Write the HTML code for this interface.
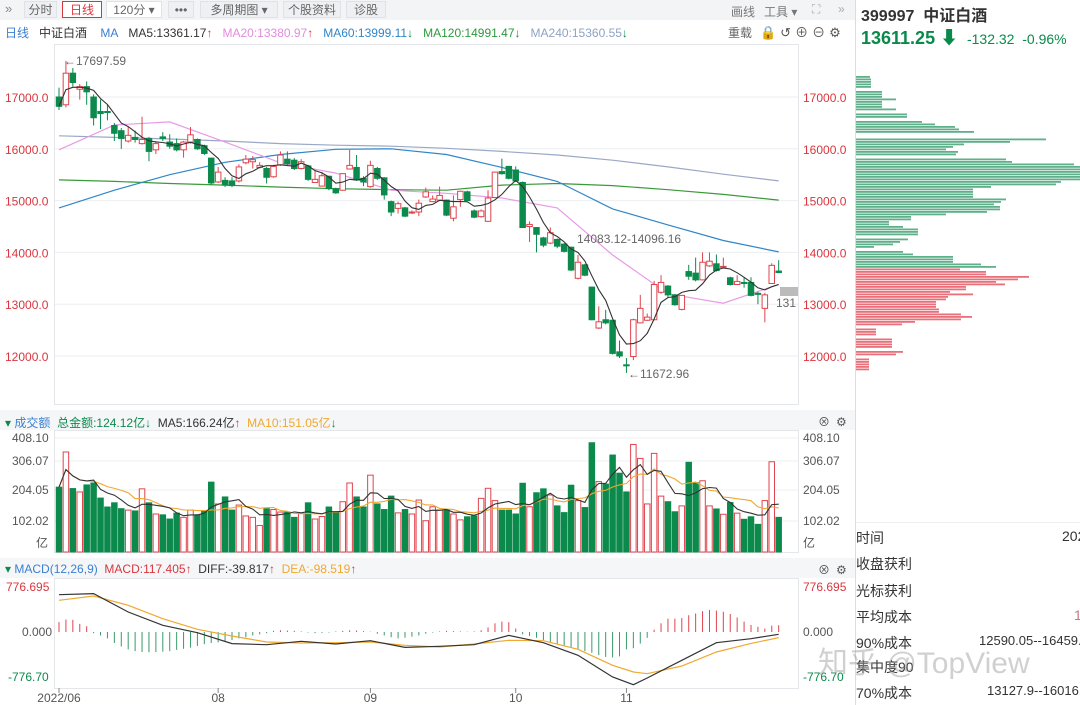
<!DOCTYPE html>
<html><head><meta charset="utf-8">
<style>
body{margin:0;width:1080px;height:705px;overflow:hidden;background:#fff;font-family:"Liberation Sans","Noto Sans CJK SC",sans-serif;position:relative}
.a{position:absolute;white-space:nowrap}
.btn{position:absolute;top:1px;height:17px;line-height:17px;font-size:12px;color:#666;background:#eef0f3;border:1px solid #dfe2e6;text-align:center;box-sizing:border-box}
.t12{font-size:12px}
.row{position:absolute;left:856px;width:224px;font-size:14px;color:#333;white-space:nowrap}
.row span{white-space:nowrap}
</style></head><body>
<div class="a" style="left:0;top:0;width:855px;height:20px;background:#f3f4f6"></div>
<div class="a" style="left:5px;top:1px;font-size:13px;color:#888">»</div>
<div class="btn" style="left:24px;width:33px">分时</div>
<div class="btn" style="left:62px;width:40px;border-color:#d9363e;background:#fff;color:#d9363e">日线</div>
<div class="btn" style="left:106px;width:56px;background:#fff">120分 ▾</div>
<div class="btn" style="left:168px;width:26px">•••</div>
<div class="btn" style="left:200px;width:78px">多周期图 ▾</div>
<div class="btn" style="left:283px;width:58px">个股资料</div>
<div class="btn" style="left:346px;width:40px">诊股</div>
<div class="a t12" style="left:731px;top:3px;color:#777">画线</div>
<div class="a t12" style="left:764px;top:3px;color:#777">工具 ▾</div>
<div class="a t12" style="left:812px;top:2px;color:#aaa">⛶</div>
<div class="a t12" style="left:838px;top:2px;color:#aaa">»</div>

<div class="a t12" style="left:5px;top:24px">
<span style="color:#3b7fd1">日线</span>&nbsp;&nbsp;&nbsp;<span style="color:#333">中证白酒</span>&nbsp;&nbsp;&nbsp;&nbsp;<span style="color:#3b7fd1">MA</span>&nbsp;&nbsp;&nbsp;<span style="color:#333">MA5:13361.17<span style="color:#d9363e">↑</span></span>&nbsp;&nbsp;&nbsp;<span style="color:#e38be0">MA20:13380.97<span style="color:#d9363e">↑</span></span>&nbsp;&nbsp;&nbsp;<span style="color:#2f86c9">MA60:13999.11<span style="color:#0a8a4a">↓</span></span>&nbsp;&nbsp;&nbsp;<span style="color:#2c9a3c">MA120:14991.47<span style="color:#0a8a4a">↓</span></span>&nbsp;&nbsp;&nbsp;<span style="color:#8fa2c3">MA240:15360.55<span style="color:#0a8a4a">↓</span></span></div>
<div class="a t12" style="left:728px;top:24px;color:#666">重载</div>
<div class="a" style="left:760px;top:22px;font-size:13px;color:#555;letter-spacing:4px">🔒↺⊕⊖⚙</div>

<div class="a" style="left:855px;top:0;width:1px;height:705px;background:#dcdcdc"></div>
<div class="a" style="left:861px;top:2px;font-size:16px;font-weight:bold;color:#333">399997&nbsp; 中证白酒</div>
<div class="a" style="left:861px;top:24px;font-size:18px;font-weight:bold;color:#0a8a4a">13611.25 ⬇ <span style="font-size:14px;font-weight:normal">&nbsp;-132.32&nbsp; -0.96%</span></div>

<svg class="a" style="left:0;top:0" width="1080" height="705" id="svg"></svg>

<div class="a" style="left:856px;top:522px;width:224px;height:1px;background:#eee"></div>
<div class="row" style="top:528px">时间<span style="position:absolute;left:206px">202</span></div>
<div class="row" style="top:554px">收盘获利</div>
<div class="row" style="top:581px">光标获利</div>
<div class="row" style="top:607px">平均成本<span style="position:absolute;left:218px;color:#c77">1</span></div>
<div class="row" style="top:633px">90%成本<span style="position:absolute;left:123px;font-size:13px">12590.05--16459.</span></div>
<div class="row" style="top:657px">集中度90</div>
<div class="row" style="top:683px">70%成本<span style="position:absolute;left:131px;font-size:13px">13127.9--16016.</span></div>
<div class="a" style="left:818px;top:638px;font-size:30px;color:rgba(150,150,150,0.45)">知乎 @TopView</div>

<script>
const opens=[17000,16850,17460,17150,17200,17000,16720,16720,16450,16350,16150,16220,16100,16200,15980,16230,16130,16100,15980,16130,16180,16060,15820,15360,15390,15380,15380,15730,15750,15640,15620,15460,15690,15800,15780,15620,15670,15350,15280,15470,15230,15200,15610,15640,15430,15270,15620,15440,14980,14850,14860,14760,14780,15070,14980,15010,15010,14660,15020,15170,14800,14690,14600,15060,15560,15660,15590,15350,14500,14480,14280,14180,14250,14160,14100,13500,13760,13330,12540,12700,12690,12080,11830,11990,12640,12690,12700,13230,13350,13180,12900,13630,13600,13470,13740,13780,13720,13510,13380,13420,13420,13210,12920,13400,13640];
const closes=[16820,17460,17280,17200,17100,16600,16680,16700,16300,16200,16260,16180,16180,15950,16100,16200,16050,15980,16130,16270,16000,15910,15340,15550,15300,15290,15650,15800,15790,15680,15450,15660,15880,15710,15620,15750,15410,15410,15480,15230,15150,15520,15680,15400,15360,15680,15430,15110,14780,14940,14700,14780,14950,15170,15030,15100,14720,14880,15180,15000,14680,14800,15050,15550,15520,15430,15380,14480,14540,14350,14140,14380,14120,14020,13660,13810,13560,12700,12660,12640,12050,12000,11810,12700,12920,12750,13380,13420,13180,12990,13170,13540,13470,13810,13830,13650,13730,13380,13440,13400,13170,13190,13180,13750,13611];
const highs=[17180,17697,17560,17250,17300,17050,16950,16850,16500,16400,16420,16350,16620,16230,16150,16320,16280,16200,16150,16420,16200,16080,15830,15650,15450,15450,15700,15880,15860,15740,15650,15690,15950,15950,15820,15800,15690,15590,15550,15480,15250,15530,15980,15880,15470,15770,15650,15450,15000,14980,14880,14810,15020,15250,15100,15270,15020,15100,15190,15190,14830,14830,15200,15560,15810,15670,15660,15370,14600,14490,14300,14480,14270,14180,14110,13950,13780,13340,12960,12890,12700,12300,11960,12720,13180,12820,13450,13560,13370,13200,13180,13760,13900,14000,14000,13960,13900,13530,13560,13520,13520,13240,13220,13790,13850];
const lows=[16750,16800,17200,16950,16850,16450,16380,16550,16150,16000,16120,16120,16080,15760,15900,16150,16000,15950,15830,16100,15980,15880,15300,15340,15260,15260,15350,15700,15620,15620,15330,15440,15670,15680,15590,15600,15380,15350,15270,15200,15130,15190,15600,15380,15280,15250,15400,15020,14700,14750,14680,14740,14700,15050,14970,14990,14700,14600,14880,14990,14660,14670,14590,15050,15500,15410,15360,14470,14200,14000,14100,14160,14080,14000,13640,13480,13540,12690,12520,12610,12030,11960,11673,11920,12630,12680,12690,13200,13120,12970,12880,13470,13440,13460,13720,13630,13700,13360,13370,13320,13150,13000,12650,13390,13600];
const volumes=[232,358,227,215,240,247,193,161,176,155,150,147,226,176,136,133,118,139,124,150,133,147,250,172,197,150,168,129,124,95,155,152,143,143,124,139,176,118,127,161,140,180,247,197,161,275,172,152,200,140,152,136,186,112,162,150,150,136,115,126,129,192,228,184,150,150,136,246,162,212,226,204,165,141,239,184,159,391,252,243,347,282,215,385,335,172,353,200,180,144,165,321,248,255,165,154,135,177,139,117,126,99,184,323,124];
const maIdx=[0,8,16,24,32,40,48,56,64,72,80,88,96,104];
const ma20=[15980,16460,16520,16130,15730,15530,15200,15140,15050,14860,13950,13200,13020,13380];
const ma60=[14860,15200,15500,15740,15890,15990,16000,15890,15640,15370,14840,14530,14230,14010];
const ma120=[15400,15370,15330,15300,15260,15230,15210,15200,15300,15330,15290,15210,15120,15010];
const ma240=[16250,16220,16190,16150,16100,16070,16050,16010,15950,15880,15780,15650,15510,15380];
const macdIdx=[0,5,10,15,20,25,30,35,40,45,50,55,60,65,70,75,80,83,85,90,95,100,104];
const diff=[644,662,345,115,-12,-201,-219,-161,-207,-150,-265,-247,-219,-58,-184,-403,-777,-909,-794,-489,-184,-115,-40];
const dea=[547,621,460,230,46,-69,-173,-190,-184,-173,-230,-259,-207,-144,-150,-299,-575,-690,-719,-587,-345,-196,-98];
const macdHist=[170,215,210,140,100,-20,-60,-110,-190,-250,-300,-330,-345,-350,-345,-340,-330,-310,-290,-270,-240,-210,-190,-180,-160,-140,-110,-90,-60,-40,-20,20,30,25,20,10,-10,-20,-15,-10,10,20,30,25,15,5,-30,-60,-90,-110,-100,-80,-60,-30,-10,10,20,15,10,5,10,30,80,150,180,170,60,-40,-70,-100,-140,-180,-210,-240,-270,-300,-330,-360,-400,-430,-440,-420,-300,-280,-200,-100,40,150,230,230,240,290,320,360,380,370,350,310,250,180,120,90,60,110,117];
const priceTicks=[17000,16000,15000,14000,13000,12000];
const volTickLabels=["408.10","306.07","204.05","102.02","亿"];
const volTickY=[438,461,490,521,543];
const monthLabels=["2022/06","08","09","10","11"];
const monthIdx=[0,23,45,66,82];
const chipLens=[14,15,15,15,15,0,26,26,26,40,26,26,26,40,0,51,51,0,66,79,99,103,118,0,0,190,154,108,97,90,102,100,0,150,156,218,224,224,224,224,224,224,205,200,135,117,117,117,117,150,145,138,144,144,131,90,55,55,33,33,47,62,62,62,0,52,44,37,18,0,47,57,97,97,97,125,140,104,130,130,173,162,140,149,110,110,94,117,92,90,80,80,80,83,83,105,116,105,59,46,0,20,20,20,0,36,36,36,36,0,47,40,0,13,13,13,13,13];
const chipGreenCount=77;

const svg=document.getElementById('svg');const NS='http://www.w3.org/2000/svg';
function mk(tag,attrs,name,parent){const e=document.createElementNS(NS,tag);for(const k in attrs)e.setAttribute(k,attrs[k]);


(parent||svg).appendChild(e);return e;}
const RED='#e0434d',GRN='#0b8a4c';
const xOf=i=>59+i*6.92;
const yP=p=>97+(17000-p)*0.0518;
const yV=v=>552-v*0.2794;
const yM=v=>632-v*45/776.7;

mk('rect',{x:54.5,y:44.5,width:744,height:360,fill:'none',stroke:'#e4e6ea'},'price-panel-frame');
mk('rect',{x:54.5,y:430.5,width:744,height:122,fill:'none',stroke:'#e4e6ea'},'volume-panel-frame');
mk('rect',{x:54.5,y:578.5,width:744,height:110,fill:'none',stroke:'#e4e6ea'},'macd-panel-frame');
mk('rect',{x:0,y:410,width:855,height:20,fill:'#f5f6f8'},'volume-header-bg');
mk('rect',{x:0,y:558,width:855,height:20,fill:'#f5f6f8'},'macd-header-bg');

priceTicks.forEach(p=>{const y=yP(p);
mk('line',{x1:55,x2:798,y1:y,y2:y,stroke:'#eceef1'},'price-gridline');
const t=mk('text',{x:5,y:y+5,'font-size':12,fill:'#d9363e'},'price-tick-left');t.textContent=p.toFixed(1);
const t2=mk('text',{x:803,y:y+5,'font-size':12,fill:'#d9363e'},'price-tick-right');t2.textContent=p.toFixed(1);});

function line(idx,vals,fy,color,name,w){let d='';idx.forEach((i,k)=>{d+=(k?'L':'M')+xOf(i).toFixed(1)+','+fy(vals[k]).toFixed(1);});mk('path',{d:d,fill:'none',stroke:color,'stroke-width':w||1.2},name);}
line(maIdx,ma240,yP,'#9aa8c6','ma240-line');
line(maIdx,ma120,yP,'#3a9a3a','ma120-line');
line(maIdx,ma60,yP,'#2f86c9','ma60-line');
line(maIdx,ma20,yP,'#e79be6','ma20-line');

const g=mk('g',{},'candles');
closes.forEach((c,i)=>{const o=opens[i],x=xOf(i),up=c>=o,col=up?RED:GRN;
mk('line',{x1:x,x2:x,y1:yP(highs[i]),y2:yP(Math.max(o,c)),stroke:col,'stroke-width':1},'candle-wick',g);
mk('line',{x1:x,x2:x,y1:yP(Math.min(o,c)),y2:yP(lows[i]),stroke:col,'stroke-width':1},'candle-wick',g);
const y1=yP(Math.max(o,c)),h=Math.max(1,yP(Math.min(o,c))-y1);
mk('rect',{x:x-2.75,y:y1,width:5.5,height:h,fill:up?'#fff':col,stroke:col,'stroke-width':1},'candle',g);});

const ma5=closes.map((c,i)=>{const s=closes.slice(Math.max(0,i-4),i+1);return s.reduce((a,b)=>a+b,0)/s.length;});
line(ma5.map((_,i)=>i),ma5,yP,'#333','ma5-line',1.1);

let t=mk('text',{x:64,y:65,'font-size':12,fill:'#666'},'high-label');t.textContent='←17697.59';
t=mk('text',{x:577,y:243,'font-size':12,fill:'#666'},'range-label');t.textContent='14083.12-14096.16';
t=mk('text',{x:628,y:378,'font-size':12,fill:'#666'},'low-label');t.textContent='←11672.96';
mk('rect',{x:780,y:287,width:18,height:9,fill:'#bbb'},'current-price-marker');
t=mk('text',{x:776,y:307,'font-size':12,fill:'#666'},'current-price-label');t.textContent='131';

volTickLabels.forEach((l,k)=>{const y=volTickY[k];
if(k<4)mk('line',{x1:55,x2:798,y1:y,y2:y,stroke:'#eef0f2'},'volume-gridline');
let a=mk('text',{x:k<4?12:36,y:y+4,'font-size':12,fill:'#555'},'volume-tick-left');a.textContent=k<4?l:'亿';
let b=mk('text',{x:803,y:y+4,'font-size':12,fill:'#555'},'volume-tick-right');b.textContent=l;});
volumes.forEach((v,i)=>{const up=closes[i]>=opens[i],col=up?RED:GRN,x=xOf(i);
mk('rect',{x:x-2.75,y:yV(v),width:5.5,height:552-yV(v),fill:up?'#fff':col,stroke:col,'stroke-width':1},'volume-bar');});
function mav(arr,n){return arr.map((c,i)=>{const s=arr.slice(Math.max(0,i-n+1),i+1);return s.reduce((a,b)=>a+b,0)/s.length;});}
const vma5=mav(volumes,5),vma10=mav(volumes,10);
line(vma10.map((_,i)=>i),vma10,yV,'#f0a830','volume-ma10-line',1.1);
line(vma5.map((_,i)=>i),vma5,yV,'#333','volume-ma5-line',1.1);

[[776.695,'776.695'],[0,'0.000'],[-776.7,'-776.70']].forEach(([v,l])=>{const y=yM(v);
let a=mk('text',{x:v<0?8:(v>0?6:22),y:y+4,'font-size':12,fill:v>0?'#d9363e':(v<0?'#0b8a4c':'#555')},'macd-tick-left');a.textContent=l;
let b=mk('text',{x:803,y:y+4,'font-size':12,fill:v>0?'#d9363e':(v<0?'#0b8a4c':'#555')},'macd-tick-right');b.textContent=l;});
macdHist.forEach((v,i)=>{const x=xOf(i);mk('line',{x1:x,x2:x,y1:yM(0),y2:yM(v),stroke:v>=0?RED:'#3a9a6a','stroke-width':1},'macd-histogram-bar');});
line(macdIdx,dea,yM,'#f0a830','dea-line',1.2);
line(macdIdx,diff,yM,'#333','diff-line',1.2);

monthLabels.forEach((l,k)=>{const x=xOf(monthIdx[k]);
mk('line',{x1:x,x2:x,y1:688,y2:693,stroke:'#888'},'month-tick');
let a=mk('text',{x:x,y:702,'font-size':12,fill:'#555','text-anchor':'middle'},'month-label');a.textContent=l;});

chipLens.forEach((len,i)=>{if(!len)return;mk('rect',{x:856,y:76+i*2.5,width:len,height:1.8,fill:i<chipGreenCount?'#5fb08a':'#e8707a'},'chip-bar');});
</script>

<div class="a t12" style="left:5px;top:414px"><span style="color:#0b8a4c">▾</span> <span style="color:#3b7fd1">成交额</span>&nbsp; <span style="color:#0b8a4c">总金额:124.12亿↓</span>&nbsp;&nbsp;<span style="color:#333">MA5:166.24亿<span style="color:#d9363e">↑</span></span>&nbsp;&nbsp;<span style="color:#f0a830">MA10:151.05亿<span style="color:#0b8a4c">↓</span></span></div>
<div class="a t12" style="left:818px;top:413px;color:#555;letter-spacing:6px">⊗⚙</div>
<div class="a t12" style="left:5px;top:562px"><span style="color:#0b8a4c">▾</span> <span style="color:#3b7fd1">MACD(12,26,9)</span>&nbsp; <span style="color:#d9363e">MACD:117.405↑</span>&nbsp; <span style="color:#333">DIFF:-39.817<span style="color:#d9363e">↑</span></span>&nbsp; <span style="color:#f0a830">DEA:-98.519<span style="color:#d9363e">↑</span></span></div>
<div class="a t12" style="left:818px;top:561px;color:#555;letter-spacing:6px">⊗⚙</div>
</body></html>
